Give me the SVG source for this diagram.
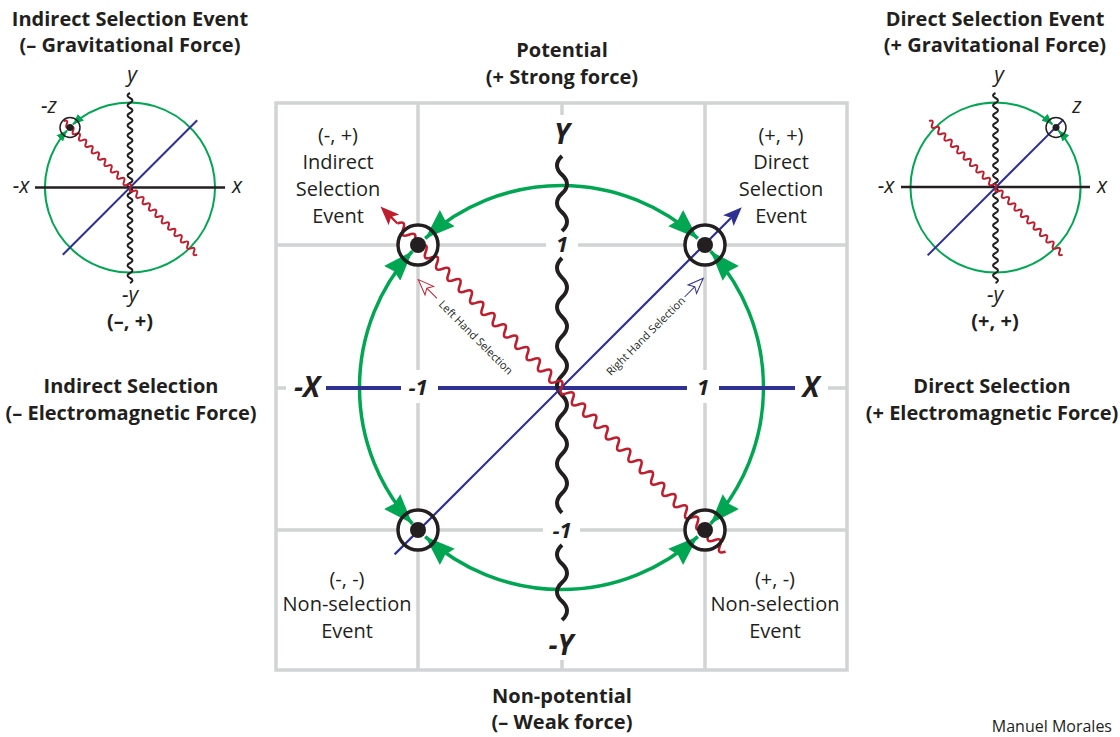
<svg xmlns="http://www.w3.org/2000/svg" width="1120" height="737" viewBox="0 0 1120 737">
<defs>
<style>
text{fill:#231f20;font-family:"Open Sans","Liberation Sans",sans-serif;text-anchor:middle}
.hd{font-size:20px;font-weight:bold}
.cell{font-size:20px}
.ax{font-size:28px;font-weight:bold;font-style:italic}
.num{font-size:22px;font-weight:bold;font-style:italic}
.sax{font-size:21px;font-style:italic}
.sb{font-size:20px;font-weight:bold}
.hand{font-size:11px}
.grid{stroke:#d1d3d4;stroke-width:3.5;fill:none}
.green{stroke:#00a651;fill:none}
.blue{stroke:#2e3192;fill:none}
.red{stroke:#be1e2d;fill:none}
.blk{stroke:#231f20;fill:none}
.ring{fill:none;stroke:#231f20}
.dot{fill:#231f20}
</style>
<marker id="gA" viewBox="-30 -11 30 22" refX="0" refY="0" markerWidth="30" markerHeight="22" markerUnits="userSpaceOnUse" orient="auto-start-reverse"><path d="M0,0 L-30,-11 L-27,0 L-30,11 z" fill="#00a651"/></marker>
<marker id="gS" viewBox="-11 -4.5 11 9" refX="0" refY="0" markerWidth="11" markerHeight="9" markerUnits="userSpaceOnUse" orient="auto-start-reverse"><path d="M0,0 L-11,-4.5 L-11,4.5 z" fill="#00a651"/></marker>
</defs>
<rect width="1120" height="737" fill="#ffffff"/>

<g id="grid" class="grid">
<rect x="276" y="103" width="571" height="567"/>
<path d="M418,103V370M418,403V670M705,103V370M705,403V670"/>
<path d="M276,245H546M578,245H847M276,530H543M580,530H847"/>
<path d="M562,103V115M562,660V670M276,388H286M828,388H847"/>
</g>
<g id="node-backgrounds" fill="#ffffff">
<circle cx="418" cy="245" r="20"/><circle cx="705" cy="245" r="20"/><circle cx="418" cy="530" r="20"/><circle cx="705" cy="530" r="20"/>
</g>

<g id="connectors">
<g id="green-cycle" class="green" stroke-width="3.5" marker-start="url(#gA)" marker-end="url(#gA)">
<path d="M425.2,238.4 A202,202 0 0 1 697.8,238.4"/>
<path d="M710.6,251.2 A202,202 0 0 1 710.6,523.8"/>
<path d="M697.8,536.6 A202,202 0 0 1 425.2,536.6"/>
<path d="M412.4,523.8 A202,202 0 0 1 412.4,251.2"/>
</g>
<g id="x-axis" class="blue" stroke-width="4">
<path d="M326,388H401M438,388H687M719,388H795"/>
</g>
<g id="y-axis" class="blk" stroke-width="4">
<path d="M562,156 q-10,9.375 0,18.75 t0,18.75 t0,18.75 t0,18.75"/>
<path d="M562,258 q-10,9.8 0,19.6 t0,19.6 t0,19.6 t0,19.6 t0,19.6 t0,19.6 t0,19.6 t0,19.6 t0,19.6 t0,19.6 t0,19.6 t0,19.6 t0,19.6"/>
<path d="M562,545 q-10,9.375 0,18.75 t0,18.75 t0,18.75 t0,18.75"/>
</g>
<g id="right-hand" transform="translate(561.5,387.5) rotate(-45)">
<path class="blue" stroke-width="2.2" d="M-236,0H240"/>
<path fill="#2e3192" d="M255,0 L236,-7.5 L240,0 L236,7.5 z"/>
<path class="blue" stroke-width="1" d="M151,23H166"/>
<path fill="#ffffff" stroke="#2e3192" stroke-width="1" d="M177.5,23 L162,17 L165.5,23 L162,29 z"/>
<text class="hand" x="96" y="27">Right Hand Selection</text>
</g>
<g id="left-hand" transform="translate(561.5,387.5) rotate(45)">
<path class="red" stroke-width="2.6" d="M-232,0 q4,-9 8,0 t8,0 t8,0 t8,0 t8,0 t8,0 t8,0 t8,0 t8,0 t8,0 t8,0 t8,0 t8,0 t8,0 t8,0 t8,0 t8,0 t8,0 t8,0 t8,0 t8,0 t8,0 t8,0 t8,0 t8,0 t8,0 t8,0 t8,0 t8,0 t8,0 t8,0 t8,0 t8,0 t8,0 t8,0 t8,0 t8,0 t8,0 t8,0 t8,0 t8,0 t8,0 t8,0 t8,0 t8,0 t8,0 t8,0 t8,0 t8,0 t8,0 t8,0 t8,0 t8,0 t8,0 t8,0 t8,0 t8,0 t8,0"/>
<path class="red" stroke-width="2.2" d="M-232,0H-242"/>
<path fill="#be1e2d" d="M-256,0 L-237,-7.5 L-241,0 L-237,7.5 z"/>
<path class="red" stroke-width="1" d="M-151,25H-166"/>
<path fill="#ffffff" stroke="#be1e2d" stroke-width="1" d="M-177.5,25 L-162,19 L-165.5,25 L-162,31 z"/>
<text class="hand" x="-96" y="29">Left Hand Selection</text>
</g>
</g>

<g id="node-tl"><circle class="ring" cx="418" cy="245" r="20" stroke-width="3.5"/><circle class="dot" cx="418" cy="245" r="8"/></g>
<g id="node-tr"><circle class="ring" cx="705" cy="245" r="20" stroke-width="3.5"/><circle class="dot" cx="705" cy="245" r="8"/></g>
<g id="node-bl"><circle class="ring" cx="418" cy="530" r="20" stroke-width="3.5"/><circle class="dot" cx="418" cy="530" r="8"/></g>
<g id="node-br"><circle class="ring" cx="705" cy="530" r="20" stroke-width="3.5"/><circle class="dot" cx="705" cy="530" r="8"/></g>

<g id="axis-labels">
<text class="ax" x="562" y="144">Y</text>
<text class="num" x="562" y="252">1</text>
<text class="num" x="562" y="538">-1</text>
<text class="ax" x="561" y="655">-Y</text>
<text class="ax" x="307" y="397">-X</text>
<text class="num" x="418" y="395">-1</text>
<text class="num" x="703" y="395">1</text>
<text class="ax" x="811" y="397">X</text>
</g>

<g id="cell-tl"><text class="cell" x="338" y="142">(-, +)</text><text class="cell" x="338" y="169">Indirect</text><text class="cell" x="338" y="196">Selection</text><text class="cell" x="338" y="223">Event</text></g>
<g id="cell-tr"><text class="cell" x="781" y="142">(+, +)</text><text class="cell" x="781" y="169">Direct</text><text class="cell" x="781" y="196">Selection</text><text class="cell" x="781" y="223">Event</text></g>
<g id="cell-bl"><text class="cell" x="347" y="586">(-, -)</text><text class="cell" x="347" y="611">Non-selection</text><text class="cell" x="347" y="638">Event</text></g>
<g id="cell-br"><text class="cell" x="775" y="586">(+, -)</text><text class="cell" x="775" y="611">Non-selection</text><text class="cell" x="775" y="638">Event</text></g>

<g id="title-top"><text class="hd" x="562" y="57">Potential</text><text class="hd" x="562" y="84">(+ Strong force)</text></g>
<g id="title-bottom"><text class="hd" x="562" y="703">Non-potential</text><text class="hd" x="562" y="729">(– Weak force)</text></g>
<g id="title-left"><text class="hd" x="131" y="393">Indirect Selection</text><text class="hd" x="131" y="420">(– Electromagnetic Force)</text></g>
<g id="title-right"><text class="hd" x="992" y="393">Direct Selection</text><text class="hd" x="992" y="420">(+ Electromagnetic Force)</text></g>
<g id="title-ul"><text class="hd" x="130" y="26">Indirect Selection Event</text><text class="hd" x="130" y="52">(– Gravitational Force)</text></g>
<g id="title-ur"><text class="hd" x="995" y="26">Direct Selection Event</text><text class="hd" x="995" y="52">(+ Gravitational Force)</text></g>

<g id="small-left">
<path class="green" stroke-width="2" marker-start="url(#gS)" marker-end="url(#gS)" d="M72.8,124.6 A85,85 0 1 1 67.1,130.3"/>
<path class="blk" stroke-width="2.5" d="M35,187.5H225"/>
<path class="blk" stroke-width="2" d="M130,93 q-5,2.5 0,5 t0,5 t0,5 t0,5 t0,5 t0,5 t0,5 t0,5 t0,5 t0,5 t0,5 t0,5 t0,5 t0,5 t0,5 t0,5 t0,5 t0,5 t0,5 t0,5 t0,5 t0,5 t0,5 t0,5 t0,5 t0,5 t0,5 t0,5 t0,5 t0,5 t0,5 t0,5 t0,5 t0,5 t0,5 t0,5 t0,5 t0,5"/>
<path class="blue" stroke-width="2" d="M62.8,254.7L197.2,120.3"/>
<path class="red" stroke-width="2" transform="translate(130,187.5) rotate(45)" d="M-94,0 q2.25,-5 4.5,0 t4.5,0 t4.5,0 t4.5,0 t4.5,0 t4.5,0 t4.5,0 t4.5,0 t4.5,0 t4.5,0 t4.5,0 t4.5,0 t4.5,0 t4.5,0 t4.5,0 t4.5,0 t4.5,0 t4.5,0 t4.5,0 t4.5,0 t4.5,0 t4.5,0 t4.5,0 t4.5,0 t4.5,0 t4.5,0 t4.5,0 t4.5,0 t4.5,0 t4.5,0 t4.5,0 t4.5,0 t4.5,0 t4.5,0 t4.5,0 t4.5,0 t4.5,0 t4.5,0 t4.5,0 t4.5,0 t4.5,0 t4.5,0"/>
<circle class="ring" cx="70" cy="127.5" r="10" stroke-width="1.5"/><circle class="dot" cx="70" cy="127.5" r="3.5"/>
<text class="sax" x="132" y="82">y</text>
<text class="sax" x="49" y="113">-z</text>
<text class="sax" x="21" y="193">-x</text>
<text class="sax" x="237" y="193">x</text>
<text class="sax" x="130" y="302">-y</text>
<text class="sb" x="130" y="328">(–, +)</text>
</g>

<g id="small-right">
<path class="green" stroke-width="2" marker-start="url(#gS)" marker-end="url(#gS)" d="M1058.4,130.3 A85,85 0 1 1 1052.7,124.6"/>
<path class="blk" stroke-width="2.5" d="M901,187H1090"/>
<path class="blk" stroke-width="2" d="M995.5,93 q-5,2.5 0,5 t0,5 t0,5 t0,5 t0,5 t0,5 t0,5 t0,5 t0,5 t0,5 t0,5 t0,5 t0,5 t0,5 t0,5 t0,5 t0,5 t0,5 t0,5 t0,5 t0,5 t0,5 t0,5 t0,5 t0,5 t0,5 t0,5 t0,5 t0,5 t0,5 t0,5 t0,5 t0,5 t0,5 t0,5 t0,5 t0,5 t0,5"/>
<path class="blue" stroke-width="2" d="M927.6,255.4L1063.4,119.6"/>
<path class="red" stroke-width="2" transform="translate(995.5,187.5) rotate(45)" d="M-94,0 q2.25,-5 4.5,0 t4.5,0 t4.5,0 t4.5,0 t4.5,0 t4.5,0 t4.5,0 t4.5,0 t4.5,0 t4.5,0 t4.5,0 t4.5,0 t4.5,0 t4.5,0 t4.5,0 t4.5,0 t4.5,0 t4.5,0 t4.5,0 t4.5,0 t4.5,0 t4.5,0 t4.5,0 t4.5,0 t4.5,0 t4.5,0 t4.5,0 t4.5,0 t4.5,0 t4.5,0 t4.5,0 t4.5,0 t4.5,0 t4.5,0 t4.5,0 t4.5,0 t4.5,0 t4.5,0 t4.5,0 t4.5,0 t4.5,0 t4.5,0"/>
<circle class="ring" cx="1056" cy="127.5" r="10" stroke-width="1.5"/><circle class="dot" cx="1056" cy="127.5" r="3.5"/>
<text class="sax" x="999" y="82">y</text>
<text class="sax" x="1077" y="113">z</text>
<text class="sax" x="886" y="193">-x</text>
<text class="sax" x="1102" y="193">x</text>
<text class="sax" x="995" y="302">-y</text>
<text class="sb" x="995" y="328">(+, +)</text>
</g>

<g id="credit"><text x="1112" y="732" style="font-size:16px;text-anchor:end">Manuel Morales</text></g>
</svg>
